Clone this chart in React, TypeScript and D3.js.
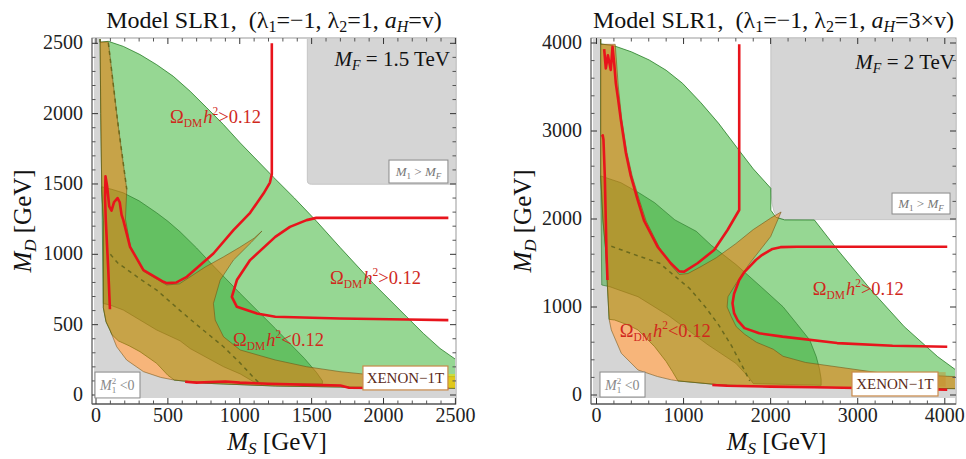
import * as d3 from "d3";

type Pt = [number, number];

const FONT = "'Liberation Serif', 'Times New Roman', serif";

// axis ticks
const leftXTicks = [0, 500, 1000, 1500, 2000, 2500];
const leftYTicks = [0, 500, 1000, 1500, 2000, 2500];
const rightXTicks = [0, 1000, 2000, 3000, 4000];
const rightYTicks = [0, 1000, 2000, 3000, 4000];

// ---------- left panel: a_H = v, M_F = 1.5 TeV ----------
const leftOuterUpper: Pt[] = [[28, 2600], [33, 2000], [40, 1460], [51, 1240], [51, 620], [70, 520], [97, 462], [110, 430]];
const leftOuterMid: Pt[] = [[144, 343], [213, 249], [330, 166], [450, 125]];
const leftOuterLower: Pt[] = [[545, 106], [771, 83], [1247, 64], [1800, 55], [2520, 48]];
const leftPeachTop: Pt[] = [[110, 430], [155, 385], [230, 350], [306, 308], [422, 225], [500, 140], [545, 106]];
const leftGreenTop: Pt[] = [[28, 2507], [86, 2514], [190, 2478], [306, 2420], [422, 2348], [538, 2265], [655, 2159], [771, 2041], [887, 1922], [1003, 1792], [1119, 1670], [1233, 1550], [1380, 1400], [1534, 1235], [1697, 1050], [1929, 793], [2161, 556], [2277, 438], [2393, 331], [2520, 240]];
const leftDarkTop: Pt[] = [[40, 1480], [110, 1462], [190, 1437], [300, 1380], [422, 1295], [500, 1235], [585, 1160], [700, 1045], [800, 935], [1000, 725], [1250, 470], [1450, 260], [1534, 160], [1575, 100]];
const leftTanTop: Pt[] = [[51, 650], [97, 640], [190, 604], [306, 533], [422, 462], [585, 385], [655, 330], [887, 201], [1003, 150], [1095, 95], [1200, 80], [1575, 80]];
const leftHornLeft: Pt[] = [[28, 2510], [86, 2510], [150, 1950], [214, 1461], [205, 1250], [240, 1050], [330, 880], [469, 795], [492, 782], [580, 790], [655, 840], [760, 910], [887, 982], [1000, 1050], [1100, 1115], [1154, 1165]];
const leftHornRight: Pt[] = [[1080, 1085], [956, 959], [864, 817], [817, 651], [829, 533], [887, 414], [1003, 320], [1247, 249], [1465, 201], [1697, 166], [1929, 142], [2200, 135], [2520, 130]];
const leftHeavyF: Pt[] = [[1470, 2800], [1470, 1525], [1474, 1507], [1488, 1499], [1500, 1498], [2800, 1498], [2800, 2800]];
const leftYellow: Pt[] = [[2380, 150], [2520, 150], [2520, 50], [2380, 52]];
const leftDashA: Pt[] = [[86, 2502], [150, 1950], [214, 1461]];
const leftDashB: Pt[] = [[100, 1000], [150, 940], [300, 830], [422, 746], [585, 600], [700, 500], [887, 343], [1000, 230], [1100, 120], [1150, 70]];
const leftRedU: Pt[] = [[97, 610], [85, 900], [68, 1243], [63, 1400], [66, 1555], [78, 1480], [92, 1340], [108, 1310], [125, 1370], [150, 1400], [165, 1370], [178, 1280], [190, 1243], [237, 1053], [330, 888], [469, 805], [492, 795], [560, 800], [632, 840], [817, 1006], [956, 1172], [1072, 1295], [1165, 1432], [1210, 1510], [1223, 1570], [1223, 2500]];
const leftRedC: Pt[] = [[2451, 1259], [1532, 1259], [1465, 1243], [1349, 1195], [1247, 1124], [1072, 959], [980, 817], [945, 698], [980, 627], [1119, 580], [1247, 556], [1697, 544], [2161, 537], [2451, 532]];
const leftRedLow: Pt[] = [[620, 94], [700, 88], [800, 92], [900, 96], [1000, 88], [1200, 80], [1500, 72], [1700, 68], [1760, 52], [2000, 50], [2451, 48]];

// ---------- right panel: a_H = 3v, M_F = 2 TeV ----------
const rightOuterUpper: Pt[] = [[48, 4200], [48, 2500], [75, 1977], [110, 1600], [126, 1231], [145, 860]];
const rightOuterMid: Pt[] = [[170, 739], [285, 474], [477, 284], [700, 210], [859, 172]];
const rightOuterLower: Pt[] = [[936, 160], [1433, 114], [2027, 94], [3000, 82], [4140, 72]];
const rightPeachTop: Pt[] = [[145, 860], [209, 852], [350, 800], [477, 739], [668, 549], [800, 380], [870, 270], [936, 160]];
const rightGreenTop: Pt[] = [[48, 3990], [208, 3966], [400, 3900], [605, 3807], [800, 3690], [988, 3542], [1200, 3320], [1400, 3090], [1645, 2770], [1800, 2570], [2002, 2349], [2002, 2100], [2060, 2020], [2160, 1990], [2502, 1989], [2770, 1648], [3153, 1193], [3535, 776], [3919, 435], [4140, 275]];
const rightDarkTop: Pt[] = [[48, 2489], [279, 2413], [500, 2290], [668, 2185], [900, 1990], [1146, 1860], [1319, 1700], [1605, 1480], [1900, 1220], [2142, 1003], [2300, 810], [2449, 625], [2524, 435], [2560, 300], [2580, 180]];
const rightTanTop: Pt[] = [[60, 1250], [151, 1231], [477, 1117], [830, 900], [1280, 570], [1600, 360], [1750, 200], [1800, 130], [2580, 110]];
const rightHornLeft: Pt[] = [[48, 3985], [215, 3985], [250, 3511], [290, 3133], [350, 2753], [410, 2489], [490, 2224], [570, 1977], [720, 1680], [860, 1470], [950, 1370], [1050, 1380], [1200, 1460], [1376, 1560], [1600, 1720], [1800, 1880], [2000, 2010], [2120, 2080]];
const rightHornRight: Pt[] = [[2000, 1800], [1760, 1497], [1605, 1269], [1510, 1117], [1500, 1000], [1548, 890], [1605, 776], [1702, 690], [1835, 600], [2030, 520], [2142, 440], [2400, 370], [3290, 246], [4140, 208]];
const rightHeavyF: Pt[] = [[2002, 4400], [2002, 2349], [2015, 2180], [2040, 2080], [2090, 2010], [2160, 1993], [4400, 1993], [4400, 4400]];
const rightYellow: Pt[] = [[3900, 260], [4010, 260], [4010, 95], [3900, 95]];
const rightDashB: Pt[] = [[170, 1690], [480, 1580], [726, 1497], [900, 1350], [1070, 1210], [1250, 1000], [1400, 800], [1550, 560], [1700, 280], [1760, 160]];
const rightRedU: Pt[] = [[88, 3930], [107, 3712], [131, 3860], [164, 3693], [184, 3958], [205, 3750], [222, 3542], [250, 3350], [279, 3133], [337, 2753], [394, 2489], [471, 2224], [548, 1977], [701, 1685], [853, 1497], [950, 1405], [1007, 1401], [1160, 1497], [1351, 1648], [1505, 1875], [1639, 2102], [1639, 3985]];
const rightRedLeft: Pt[] = [[61, 2935], [72, 2950], [80, 2900], [95, 2500], [107, 1977], [115, 1600], [126, 1307]];
const rightRedC: Pt[] = [[4028, 1685], [2300, 1685], [2113, 1680], [2021, 1660], [1900, 1590], [1830, 1534], [1700, 1400], [1639, 1307], [1580, 1150], [1562, 1042], [1580, 930], [1619, 852], [1700, 760], [1869, 701], [2136, 663], [2764, 590], [3400, 560], [4028, 549]];
const rightRedLow: Pt[] = [[1330, 114], [1500, 105], [2000, 95], [2500, 88], [3000, 80], [3500, 72], [4028, 60]];

const rev = (a: Pt[]) => a.slice().reverse();

type Cfg = {
  id: string;
  suffix: string;
  mf: string;
  xTicks: number[];
  yTicks: number[];
  minor: number;
  xRange: [number, number];
  yRange: [number, number];
  frame: { x0: number; x1: number; y0: number; y1: number };
  outerUpper: Pt[];
  outerMid: Pt[];
  outerLower: Pt[];
  peachTop: Pt[];
  greenTop: Pt[];
  darkTop: Pt[];
  tanTop: Pt[];
  hornLeft: Pt[];
  hornRight: Pt[];
  heavyF: Pt[];
  yellow: Pt[];
  yellowFill: string;
  dashes: Pt[][];
  reds: Pt[][];
  omegaHi: Pt[];
  omegaLo: Pt;
  mfPos: Pt;
  boxF: [Pt, Pt];
  boxNeg: [Pt, Pt];
  boxX: [Pt, Pt];
  yLabelX: number;
};

function Omega({ x, y, sign, size }: { x: number; y: number; sign: string; size: number }) {
  return (
    <text x={x} y={y} fontFamily={FONT} fontSize={size} fill="#d0281c">
      <tspan>Ω</tspan>
      <tspan fontSize={size * 0.62} dy={size * 0.22}>DM</tspan>
      <tspan fontStyle="italic" dy={-size * 0.22} dx={1}>h</tspan>
      <tspan fontSize={size * 0.62} dy={-size * 0.42}>2</tspan>
      <tspan dy={size * 0.42}>{sign}0.12</tspan>
    </text>
  );
}

function Panel({ c }: { c: Cfg }) {
  const x = d3.scaleLinear().domain([0, c.xTicks[c.xTicks.length - 1]]).range(c.xRange);
  const y = d3.scaleLinear().domain([0, c.yTicks[c.yTicks.length - 1]]).range(c.yRange);
  const line = d3.line<Pt>().x((d) => x(d[0])).y((d) => y(d[1]));
  const poly = (p: Pt[]) => (line(p) || "") + "Z";
  const f = c.frame;
  const outer = [...c.outerUpper, ...c.outerMid, ...c.outerLower];
  const lastOuter = c.outerLower[c.outerLower.length - 1];
  const xEdge = lastOuter[0];

  const negRegion: Pt[] = [...outer, [xEdge + 500, -1000], [-1000, -1000], [-1000, 6000]];
  const green: Pt[] = [...c.greenTop, lastOuter, ...rev(c.outerLower), ...rev(c.peachTop), ...rev(c.outerUpper)];
  const dark: Pt[] = [...c.darkTop, ...rev(c.tanTop)];
  const orange: Pt[] = [...c.hornLeft, ...c.hornRight, lastOuter, ...rev(outer)];

  const xmax = c.xTicks[c.xTicks.length - 1];
  const ymax = c.yTicks[c.yTicks.length - 1];
  const minorX = d3.range(0, xmax + 1, c.minor).filter((v) => !c.xTicks.includes(v));
  const minorY = d3.range(0, ymax + 1, c.minor).filter((v) => !c.yTicks.includes(v));
  const clip = `clip-${c.id}`;
  const cx = (f.x0 + f.x1) / 2;

  const box = (b: [Pt, Pt]) => ({
    x: x(b[0][0]),
    y: y(b[0][1]),
    w: x(b[1][0]) - x(b[0][0]),
    h: y(b[1][1]) - y(b[0][1]),
  });
  const bF = box(c.boxF);
  const bN = box(c.boxNeg);
  const bX = box(c.boxX);

  return (
    <g fontFamily={FONT}>
      <defs>
        <clipPath id={clip}>
          <rect x={f.x0 + 2} y={f.y0 + 1} width={f.x1 - f.x0 - 3} height={f.y1 - f.y0 - 7} />
        </clipPath>
      </defs>
      <g clipPath={`url(#${clip})`}>
        <rect x={f.x0} y={f.y0} width={f.x1 - f.x0} height={f.y1 - f.y0} fill="#fff" />
        <path d={poly(negRegion)} fill="#d5d5d5" />
        <path d={poly(c.heavyF)} fill="#d5d5d5" stroke="#bdbdbd" strokeWidth={0.8} />
        <path d={poly(green)} fill="rgba(45,175,40,0.5)" stroke="rgba(30,120,30,0.85)" strokeWidth={0.9} />
        <path d={poly(dark)} fill="rgba(40,165,40,0.45)" stroke="rgba(30,110,30,0.7)" strokeWidth={0.8} />
        <path d={poly(orange)} fill="rgba(240,118,10,0.54)" stroke="rgba(110,80,20,0.7)" strokeWidth={0.8} />
        <path d={poly(c.yellow)} fill={c.yellowFill} stroke="none" />
        {c.dashes.map((d, i) => (
          <path key={i} d={line(d) || ""} fill="none" stroke="#6b6a1e" strokeWidth={1.5} strokeDasharray="4 4" />
        ))}
        {c.reds.map((d, i) => (
          <path key={i} d={line(d) || ""} fill="none" stroke="#e8141c" strokeWidth={2.6} strokeLinejoin="round" />
        ))}
      </g>

      {/* frame */}
      <rect x={f.x0} y={f.y0} width={f.x1 - f.x0} height={f.y1 - f.y0} fill="none" stroke="#999" strokeWidth={1} />
      <line x1={f.x0} x2={f.x1} y1={f.y1} y2={f.y1} stroke="#333" strokeWidth={1.2} />
      <line x1={f.x0} x2={f.x0} y1={f.y0} y2={f.y1} stroke="#666" strokeWidth={1} />
      {c.xTicks.map((t) => (
        <g key={"x" + t}>
          <line x1={x(t)} x2={x(t)} y1={f.y1} y2={f.y1 - 6} stroke="#333" />
          <line x1={x(t)} x2={x(t)} y1={f.y0} y2={f.y0 + 6} stroke="#333" />
          <text x={x(t)} y={422} textAnchor="middle" fontSize={20} fill="#222">{t}</text>
        </g>
      ))}
      {minorX.map((t) => (
        <g key={"mx" + t}>
          <line x1={x(t)} x2={x(t)} y1={f.y1} y2={f.y1 - 3.5} stroke="#555" />
          <line x1={x(t)} x2={x(t)} y1={f.y0} y2={f.y0 + 3.5} stroke="#555" />
        </g>
      ))}
      {c.yTicks.map((t) => (
        <g key={"y" + t}>
          <line x1={f.x0} x2={f.x0 + 6} y1={y(t)} y2={y(t)} stroke="#333" />
          <line x1={f.x1} x2={f.x1 - 6} y1={y(t)} y2={y(t)} stroke="#333" />
          <text x={f.x0 - 9} y={y(t) + 6} textAnchor="end" fontSize={20} fill="#222">{t}</text>
        </g>
      ))}
      {minorY.map((t) => (
        <g key={"my" + t}>
          <line x1={f.x0} x2={f.x0 + 3.5} y1={y(t)} y2={y(t)} stroke="#555" />
          <line x1={f.x1} x2={f.x1 - 3.5} y1={y(t)} y2={y(t)} stroke="#555" />
        </g>
      ))}

      {/* region labels */}
      {c.omegaHi.map((p, i) => (
        <Omega key={i} x={x(p[0])} y={y(p[1])} sign=">" size={18.5} />
      ))}
      <Omega x={x(c.omegaLo[0])} y={y(c.omegaLo[1])} sign="<" size={18.5} />

      <text x={x(c.mfPos[0])} y={y(c.mfPos[1])} textAnchor="end" fontSize={21} fill="#111" style={{ whiteSpace: "pre" }}>
        <tspan fontStyle="italic">M</tspan>
        <tspan fontStyle="italic" fontSize={14} dy={4}>F</tspan>
        <tspan dy={-4}>{" = " + c.mf}</tspan>
      </text>

      <rect x={bF.x} y={bF.y} width={bF.w} height={bF.h} fill="#fff" stroke="#8a8a8a" strokeWidth={1} />
      <text x={bF.x + bF.w / 2} y={bF.y + bF.h / 2 + 4.5} textAnchor="middle" fontSize={13} fill="#777" style={{ whiteSpace: "pre" }}>
        <tspan fontStyle="italic">M</tspan>
        <tspan fontSize={9} dy={2.5}>1</tspan>
        <tspan dy={-2.5}>{" > "}</tspan>
        <tspan fontStyle="italic">M</tspan>
        <tspan fontStyle="italic" fontSize={9} dy={2.5}>F</tspan>
      </text>

      <rect x={bN.x} y={bN.y} width={bN.w} height={bN.h} fill="#fff" stroke="#8a8a8a" strokeWidth={1} />
      <text x={bN.x + 5} y={bN.y + bN.h / 2 + 5} fontSize={14} fill="#888" style={{ whiteSpace: "pre" }}>
        <tspan fontStyle="italic">M</tspan>
        <tspan fontSize={9} dy={3}>1</tspan>
        <tspan fontSize={9} dx={-4.5} dy={-9}>2</tspan>
        <tspan dy={6}>{" <0"}</tspan>
      </text>

      <rect x={bX.x} y={bX.y} width={bX.w} height={bX.h} fill="#fff" stroke="#c98a4a" strokeWidth={1.2} />
      <text x={bX.x + bX.w / 2} y={bX.y + bX.h / 2 + 5} textAnchor="middle" fontSize={15} fill="#5a2a18">
        XENON−1T
      </text>

      {/* titles */}
      <text x={cx} y={28} textAnchor="middle" fontSize={24} fill="#111" style={{ whiteSpace: "pre" }}>
        <tspan>{"Model SLR1,  (λ"}</tspan>
        <tspan fontSize={16} dy={4}>1</tspan>
        <tspan dy={-4}>{"=−1, λ"}</tspan>
        <tspan fontSize={16} dy={4}>2</tspan>
        <tspan dy={-4}>{"=1, "}</tspan>
        <tspan fontStyle="italic">a</tspan>
        <tspan fontStyle="italic" fontSize={16} dy={4}>H</tspan>
        <tspan dy={-4}>{"=" + c.suffix + ")"}</tspan>
      </text>

      <text x={cx + 3} y={450} textAnchor="middle" fontSize={25} fill="#111" style={{ whiteSpace: "pre" }}>
        <tspan fontStyle="italic">M</tspan>
        <tspan fontStyle="italic" fontSize={17} dy={4}>S</tspan>
        <tspan dy={-4}>{" [GeV]"}</tspan>
      </text>
      <text transform={`translate(${c.yLabelX},${(f.y0 + f.y1) / 2}) rotate(-90)`} textAnchor="middle" fontSize={25} fill="#111" style={{ whiteSpace: "pre" }}>
        <tspan fontStyle="italic">M</tspan>
        <tspan fontStyle="italic" fontSize={17} dy={5}>D</tspan>
        <tspan dy={-5}>{" [GeV]"}</tspan>
      </text>
    </g>
  );
}

const leftCfg: Cfg = {
  id: "l",
  suffix: "v",
  mf: "1.5 TeV",
  xTicks: leftXTicks,
  yTicks: leftYTicks,
  minor: 100,
  xRange: [96, 455.4],
  yRange: [395, 43.3],
  frame: { x0: 92, x1: 456, y0: 38, y1: 404 },
  outerUpper: leftOuterUpper,
  outerMid: leftOuterMid,
  outerLower: leftOuterLower,
  peachTop: leftPeachTop,
  greenTop: leftGreenTop,
  darkTop: leftDarkTop,
  tanTop: leftTanTop,
  hornLeft: leftHornLeft,
  hornRight: leftHornRight,
  heavyF: leftHeavyF,
  yellow: leftYellow,
  yellowFill: "rgba(240,225,0,0.6)",
  dashes: [leftDashA, leftDashB],
  reds: [leftRedU, leftRedC, leftRedLow],
  omegaHi: [[515, 1933], [1628, 789]],
  omegaLo: [953, 348],
  mfPos: [2462, 2339],
  boxF: [[2038, 1670], [2448, 1507]],
  boxNeg: [[-7, 163], [306, -21]],
  boxX: [[1857, 206], [2448, 36]],
  yLabelX: 31,
};

const rightCfg: Cfg = {
  id: "r",
  suffix: "3×v",
  mf: "2 TeV",
  xTicks: rightXTicks,
  yTicks: rightYTicks,
  minor: 200,
  xRange: [596.5, 944.8],
  yRange: [395, 43],
  frame: { x0: 591, x1: 956, y0: 38, y1: 404 },
  outerUpper: rightOuterUpper,
  outerMid: rightOuterMid,
  outerLower: rightOuterLower,
  peachTop: rightPeachTop,
  greenTop: rightGreenTop,
  darkTop: rightDarkTop,
  tanTop: rightTanTop,
  hornLeft: rightHornLeft,
  hornRight: rightHornRight,
  heavyF: rightHeavyF,
  yellow: rightYellow,
  yellowFill: "rgba(200,140,40,0.45)",
  dashes: [rightDashB],
  reds: [rightRedU, rightRedLeft, rightRedC, rightRedLow],
  omegaHi: [[2483, 1136]],
  omegaLo: [266, 659],
  mfPos: [4117, 3705],
  boxF: [[3394, 2295], [4060, 2057]],
  boxNeg: [[40, 261], [557, -23]],
  boxX: [[2934, 261], [3922, -11]],
  yLabelX: 531,
};

export default function App() {
  return (
    <svg width={966} height={459} viewBox="0 0 966 459" style={{ position: "absolute", left: 0, top: 0, background: "#fff" }}>
      <rect width={966} height={459} fill="#fff" />
      <Panel c={leftCfg} />
      <Panel c={rightCfg} />
    </svg>
  );
}
